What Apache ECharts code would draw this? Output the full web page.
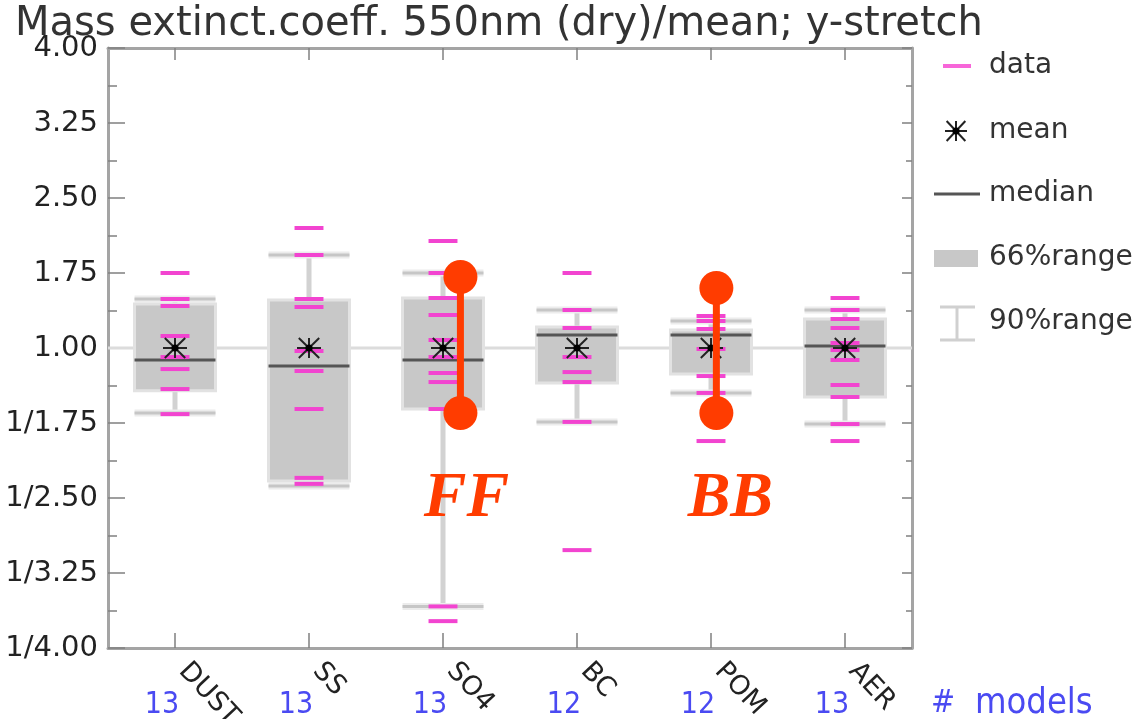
<!DOCTYPE html>
<html>
<head>
<meta charset="utf-8">
<script src="https://cdn.jsdelivr.net/npm/echarts@6/dist/echarts.min.js"></script>
<style>
html,body{margin:0;padding:0;background:#fff;}
#chart{width:1136px;height:719px;}
</style>
</head>
<body>
<div id="chart"></div>
<script>
// ---------- data (ratios to the multi-model mean) ----------
const categories = ['DUST', 'SS', 'SO4', 'BC', 'POM', 'AER'];
const modelCounts = [13, 13, 13, 12, 12, 13];

const dustData = [1.75, 1.49, 1.42, 1.12, 0.917, 0.826, 0.709, 0.602];
const ssData   = [2.20, 1.93, 1.49, 1.41, 0.971, 0.813, 0.621, 0.435, 0.424];
const so4Data  = [2.07, 1.75, 1.50, 1.33, 1.08, 0.917, 0.80, 0.746, 0.621, 0.279, 0.268];
const bcData   = [1.75, 1.38, 1.20, 0.917, 0.806, 0.746, 0.575, 0.331];
const pomData  = [1.32, 1.27, 1.19, 0.99, 0.781, 0.69, 0.518];
const aerData  = [1.50, 1.38, 1.29, 1.20, 1.05, 0.98, 0.893, 0.73, 0.671, 0.568, 0.518];
const dataByCategory = [dustData, ssData, so4Data, bcData, pomData, aerData];

const whiskerLow  = [0.606, 0.420, 0.279, 0.575, 0.690, 0.568];   // 90% range low
const boxLow      = [0.700, 0.429, 0.621, 0.741, 0.794, 0.671];   // 66% range low
const medians     = [0.893, 0.847, 0.893, 1.13, 1.13, 1.02];
const boxHigh     = [1.44, 1.48, 1.50, 1.21, 1.18, 1.29];         // 66% range high
const whiskerHigh = [1.49, 1.93, 1.75, 1.38, 1.27, 1.38];         // 90% range high
const means       = [1, 1, 1, 1, 1, 1];

// annotation bars (FF / BB), x in category units
const annotLabels = ['FF', 'BB'];
const annotX      = [2.13, 4.04];
const annotTop    = [1.71, 1.60];
const annotBottom = [0.606, 0.606];

// ---------- helpers ----------
const stretch = v => (v >= 1 ? v - 1 : 1 - 1 / v);
const fmtY = v => {
  const r = Math.round(v * 100) / 100;
  return r >= 0 ? (1 + r).toFixed(2) : '1/' + (1 - r).toFixed(2);
};

const PINK = '#f244d0';
const BOXFILL = '#c8c8c8';
const RED = '#ff3c00';
const BLUE = '#4a4af2';
const AX = '#a4a4a4';
const TK = '#808080';
const annotTextDx = [6, 14];

function asterisk(cx, cy, rx, ry, lw) {
  return {
    type: 'group',
    children: [
      {type: 'line', shape: {x1: cx - rx, y1: cy, x2: cx + rx, y2: cy}, style: {stroke: '#222', lineWidth: lw}},
      {type: 'line', shape: {x1: cx, y1: cy - ry, x2: cx, y2: cy + ry}, style: {stroke: '#222', lineWidth: lw}},
      {type: 'line', shape: {x1: cx - rx * 0.85, y1: cy - ry, x2: cx + rx * 0.85, y2: cy + ry}, style: {stroke: '#222', lineWidth: lw}},
      {type: 'line', shape: {x1: cx - rx * 0.85, y1: cy + ry, x2: cx + rx * 0.85, y2: cy - ry}, style: {stroke: '#222', lineWidth: lw}},
      {type: 'circle', shape: {cx: cx, cy: cy, r: lw * 1.8}, style: {fill: '#000'}}
    ]
  };
}

function renderRef(params, api) {
  const cs = params.coordSys;
  const y = api.coord([0, 0])[1];
  return {type: 'line', shape: {x1: cs.x, y1: y, x2: cs.x + cs.width, y2: y},
          style: {stroke: '#dcdcdc', lineWidth: 3}};
}

function renderBox(params, api) {
  const cs = params.coordSys;
  const i = api.value(0);
  const cx = api.coord([i, 0])[0];
  const bw = api.size([1, 0])[0];
  const half = bw * 0.302;
  const dh = bw * 0.108;
  const Y = v => api.coord([i, stretch(v)])[1];
  const ch = [];
  // top-frame tick for this category
  ch.push({type: 'line', shape: {x1: cx, y1: cs.y, x2: cx, y2: cs.y + 12}, style: {stroke: TK, lineWidth: 1.5}});
  ch.push({type: 'line', shape: {x1: cx, y1: Y(whiskerHigh[i]), x2: cx, y2: Y(whiskerLow[i])},
           style: {stroke: '#d2d2d2', lineWidth: 5}});
  [whiskerHigh[i], whiskerLow[i]].forEach(v => {
    const y = Y(v);
    ch.push({type: 'line', shape: {x1: cx - half, y1: y, x2: cx + half, y2: y}, style: {stroke: '#ececec', lineWidth: 7}});
    ch.push({type: 'line', shape: {x1: cx - half, y1: y, x2: cx + half, y2: y}, style: {stroke: '#c6c6c6', lineWidth: 3}});
  });
  const yt = Y(boxHigh[i]), yb = Y(boxLow[i]);
  ch.push({type: 'rect', shape: {x: cx - half, y: yt, width: 2 * half, height: yb - yt},
           style: {fill: BOXFILL, stroke: '#e2e2e2', lineWidth: 3}});
  const ym = Y(medians[i]);
  ch.push({type: 'line', shape: {x1: cx - half, y1: ym, x2: cx + half, y2: ym}, style: {stroke: '#555', lineWidth: 3}});
  dataByCategory[i].forEach(v => {
    const y = Y(v);
    ch.push({type: 'line', shape: {x1: cx - dh, y1: y, x2: cx + dh, y2: y}, style: {stroke: PINK, lineWidth: 4}});
  });
  ch.push(asterisk(cx, Y(means[i]), 12, 10, 2));
  return {type: 'group', children: ch};
}

function renderAnnot(params, api) {
  const idx = params.dataIndex;
  const p1 = api.coord([api.value(0), api.value(1)]);
  const p2 = api.coord([api.value(0), api.value(2)]);
  return {
    type: 'group',
    children: [
      {type: 'line', shape: {x1: p1[0], y1: p1[1], x2: p2[0], y2: p2[1]}, style: {stroke: RED, lineWidth: 7}},
      {type: 'circle', shape: {cx: p1[0], cy: p1[1], r: 17}, style: {fill: RED}},
      {type: 'circle', shape: {cx: p2[0], cy: p2[1], r: 17}, style: {fill: RED}},
      {type: 'text', x: p2[0] + annotTextDx[idx], y: p2[1] + 86,
       style: {text: annotLabels[idx], fill: RED, align: 'center', verticalAlign: 'middle',
               font: 'italic bold 64px "Liberation Serif", "DejaVu Serif", serif'}}
    ]
  };
}

const chart = echarts.init(document.getElementById('chart'));

const option = {
  animation: false,
  backgroundColor: '#fff',
  title: {
    text: 'Mass extinct.coeff. 550nm (dry)/mean; y-stretch',
    left: 10, top: 0,
    textStyle: {fontFamily: 'DejaVu Sans', fontSize: 40, fontWeight: 'normal', color: '#333'}
  },
  grid: {left: 108, right: 224, top: 48, bottom: 71, containLabel: false, outerBoundsMode: 'none'},
  xAxis: [
    {
      type: 'category', data: categories, position: 'bottom', boundaryGap: true,
      axisLine: {onZero: false, lineStyle: {color: AX, width: 3}},
      axisTick: {show: true, interval: 0, inside: true, alignWithLabel: true, length: 15, lineStyle: {color: TK, width: 1.5}},
      axisLabel: {interval: 0, rotate: -47, margin: 10, padding: [0, 0, 0, 12], fontFamily: 'DejaVu Sans', fontSize: 27, color: '#222'},
      splitLine: {show: false}
    },
    {
      type: 'category', data: categories, position: 'top', boundaryGap: true,
      axisLine: {onZero: false, lineStyle: {color: AX, width: 3}},
      axisTick: {show: false},
      axisLabel: {show: false},
      splitLine: {show: false}
    },
    {
      type: 'value', min: -0.5, max: 5.5, show: false, position: 'bottom',
      axisLine: {onZero: false}
    },
    {
      type: 'category', data: categories, position: 'bottom', boundaryGap: true,
      axisLine: {show: false, onZero: false}, axisTick: {show: false}, splitLine: {show: false},
      axisLabel: {
        interval: 0, margin: 42, fontFamily: '"Liberation Sans Narrow", "DejaVu Sans Condensed", sans-serif',
        fontSize: 30, color: BLUE, padding: [0, 26, 0, 0],
        formatter: (v, i) => String(modelCounts[i])
      }
    }
  ],
  yAxis: [
    {
      type: 'value', min: -3, max: 3, interval: 0.75, position: 'left',
      axisLine: {show: true, onZero: false, lineStyle: {color: AX, width: 3}},
      axisTick: {show: true, inside: true, length: 17, lineStyle: {color: TK, width: 1.5}},
      minorTick: {show: true, splitNumber: 2, length: 9, lineStyle: {color: TK, width: 1.5}},
      axisLabel: {formatter: fmtY, margin: 10, fontFamily: 'DejaVu Sans', fontSize: 29, color: '#222'},
      splitLine: {show: false}
    },
    {
      type: 'value', min: -3, max: 3, interval: 0.75, position: 'right',
      axisLine: {show: true, onZero: false, lineStyle: {color: AX, width: 3}},
      axisTick: {show: true, inside: true, length: 10, lineStyle: {color: TK, width: 1.5}},
      minorTick: {show: true, splitNumber: 2, length: 6, lineStyle: {color: TK, width: 1.5}},
      axisLabel: {show: false}, splitLine: {show: false}
    }
  ],
  series: [
    {
      type: 'custom', name: 'ref', xAxisIndex: 0, yAxisIndex: 0, z: 1,
      renderItem: renderRef, data: [[0, 0]], silent: true
    },
    {
      type: 'custom', name: 'boxes', xAxisIndex: 0, yAxisIndex: 0, z: 2,
      renderItem: renderBox,
      encode: {x: 0, y: [1, 2]},
      data: categories.map((c, i) => [i, stretch(whiskerLow[i]), stretch(whiskerHigh[i])]),
      silent: true
    },
    {
      type: 'custom', name: 'annot', xAxisIndex: 2, yAxisIndex: 0, z: 5,
      renderItem: renderAnnot,
      encode: {x: 0, y: [1, 2]},
      data: annotX.map((x, i) => [x, stretch(annotTop[i]), stretch(annotBottom[i])]),
      silent: true
    }
  ],
  graphic: [
    {type: 'line', shape: {x1: 943, y1: 66, x2: 971, y2: 66}, style: {stroke: '#f766d9', lineWidth: 4}},
    {type: 'text', x: 989, y: 66, style: {text: 'data', font: '28px "DejaVu Sans"', fill: '#333', verticalAlign: 'middle'}},
    asterisk(956, 131, 11, 10, 2),
    {type: 'text', x: 989, y: 131, style: {text: 'mean', font: '28px "DejaVu Sans"', fill: '#333', verticalAlign: 'middle'}},
    {type: 'line', shape: {x1: 934, y1: 194, x2: 980, y2: 194}, style: {stroke: '#555', lineWidth: 3}},
    {type: 'text', x: 989, y: 194, style: {text: 'median', font: '28px "DejaVu Sans"', fill: '#333', verticalAlign: 'middle'}},
    {type: 'rect', shape: {x: 934, y: 250, width: 44, height: 17}, style: {fill: BOXFILL}},
    {type: 'text', x: 989, y: 258, style: {text: '66%range', font: '28px "DejaVu Sans"', fill: '#333', verticalAlign: 'middle'}},
    {type: 'line', shape: {x1: 940, y1: 307, x2: 975, y2: 307}, style: {stroke: '#d0d0d0', lineWidth: 3}},
    {type: 'line', shape: {x1: 940, y1: 340, x2: 975, y2: 340}, style: {stroke: '#d0d0d0', lineWidth: 3}},
    {type: 'line', shape: {x1: 957, y1: 307, x2: 957, y2: 340}, style: {stroke: '#d0d0d0', lineWidth: 3}},
    {type: 'text', x: 989, y: 322, style: {text: '90%range', font: '28px "DejaVu Sans"', fill: '#333', verticalAlign: 'middle'}},
    {type: 'text', x: 931, y: 704, style: {text: '#', font: '32px "Liberation Sans Narrow", "DejaVu Sans Condensed", sans-serif', fill: BLUE, verticalAlign: 'middle'}},
    {type: 'text', x: 975, y: 704, style: {text: 'models', font: '36px "Liberation Sans Narrow", "DejaVu Sans Condensed", sans-serif', fill: BLUE, verticalAlign: 'middle'}}
  ]
};
chart.setOption(option);
</script>
</body>
</html>
